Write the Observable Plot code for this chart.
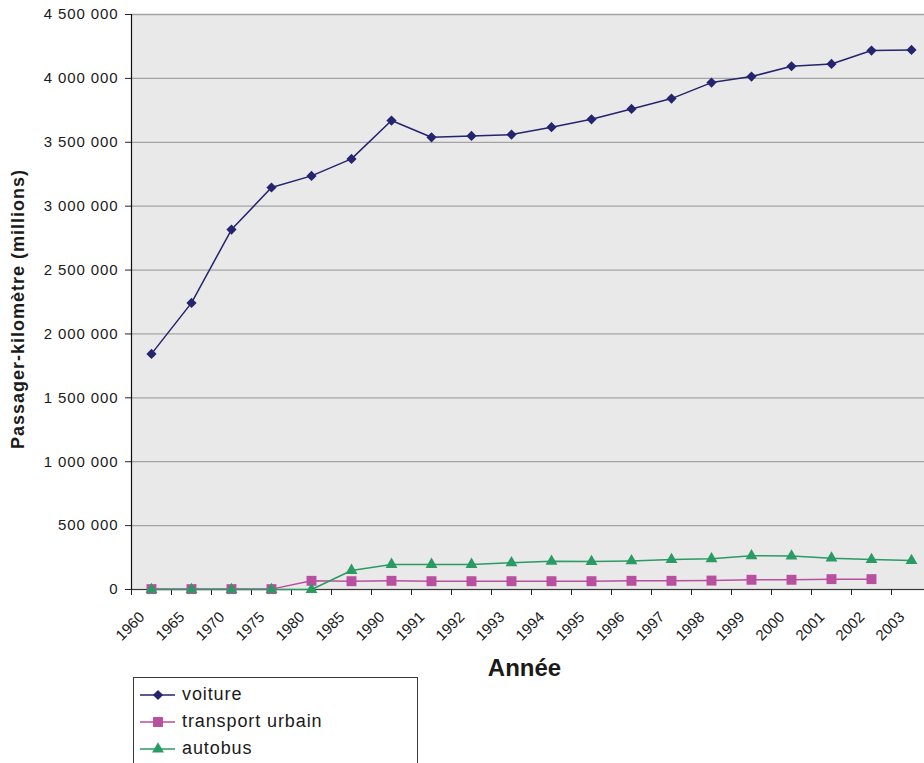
<!DOCTYPE html>
<html><head><meta charset="utf-8">
<script src="https://cdn.jsdelivr.net/npm/d3@7"></script>
<script src="https://cdn.jsdelivr.net/npm/@observablehq/plot@0.6"></script>
<style>
body{margin:0;background:#fff;overflow:hidden;font-family:"Liberation Sans",Arial,sans-serif;}
#chart{position:absolute;left:0;top:0;}
#legend{position:absolute;left:133px;top:677px;width:285px;height:110px;border:1px solid #3a3a3a;box-sizing:border-box;padding-top:3px;background:#fff}
.item{display:flex;align-items:center;height:27px;font-size:18px;letter-spacing:0.9px;color:#1a1a1a}
.item svg{margin-left:6px;margin-right:7px}
</style></head><body><div id="chart"></div><div id="legend"></div>
<script>
const years = ["1960","1965","1970","1975","1980","1985","1990","1991","1992","1993","1994","1995","1996","1997","1998","1999","2000","2001","2002","2003"];
const voiture = [1844000,2243000,2817000,3146000,3237000,3370000,3670000,3539000,3550000,3560000,3618000,3680000,3761000,3842000,3967000,4014000,4095000,4113000,4218000,4223000];
const transportUrbain = [3000,3000,3000,3000,68000,65000,68000,65000,65000,65000,65000,65000,68000,68000,70000,76000,76000,81000,81000,null];
const autobus = [0,0,0,0,0,149000,196000,196000,196000,209000,221000,219000,224000,235000,240000,264000,262000,245000,235000,227000];
const seriesNames = ["voiture","transport urbain","autobus"];
const seriesColors = ["#24246f","#b94f9f","#2a9b63"];
const seriesSymbols = ["diamond2","square","triangle"];
const yTicks = [0,500000,1000000,1500000,2000000,2500000,3000000,3500000,4000000,4500000];
const xTitle = "Année";
const yTitle = "Passager-kilomètre (millions)";

const seriesValues = [voiture, transportUrbain, autobus];
const rows = [];
seriesNames.forEach((s, k) => years.forEach((year, i) => {
  const v = seriesValues[k][i];
  if (v != null) rows.push({year, series: s, value: v});
}));

const fmt = d3.formatLocale({thousands: " ", grouping: [3], decimal: ","}).format(",");
const W = 924, H = 680, ML = 131, MR = -7, MT = 14, MB = H - 589;
const step = (W - ML - MR) / years.length;
const font = "'Liberation Sans', Arial, sans-serif";

const chart = Plot.plot({
  width: W, height: H, marginTop: MT, marginLeft: ML, marginRight: MR, marginBottom: MB,
  style: {fontFamily: font, background: "transparent", color: "#1a1a1a"},
  x: {type: "point", domain: years, padding: 0.5, label: null},
  y: {domain: [0, 4500000], label: null},
  color: {domain: seriesNames, range: seriesColors},
  marks: [
    Plot.frame({fill: "#e9e9e9", stroke: null}),
    Plot.gridY(yTicks, {stroke: "#a4a4a4", strokeOpacity: 1, strokeWidth: 1.3}),
    Plot.ruleY([0], {stroke: "#3a3a3a", strokeWidth: 1.2}),
    Plot.ruleX([years[0]], {dx: -step / 2, stroke: "#111", strokeWidth: 1.2}),
    Plot.axisY(yTicks, {tickFormat: fmt, tickSize: 6, tickPadding: 7, fontSize: 15, stroke: "#222", label: null}),
    Plot.axisX({tickSize: 6, dx: -step / 2, text: null, stroke: "#222", label: null}),
    Plot.text(years, {x: d => d, frameAnchor: "bottom", rotate: -45, textAnchor: "end", lineAnchor: "middle", dy: 25, dx: -9.5, fontSize: 15}),
    Plot.line(rows, {x: "year", y: "value", z: "series", stroke: "series", strokeWidth: 1.5}),
    Plot.dot(rows.filter(d => d.series === "voiture"), {x: "year", y: "value", symbol: () => "diamond2", fill: seriesColors[0], stroke: null, r: 4.6}),
    Plot.dot(rows.filter(d => d.series === "transport urbain"), {x: "year", y: "value", symbol: () => "square", fill: seriesColors[1], stroke: null, r: 5.6}),
    Plot.dot(rows.filter(d => d.series === "autobus"), {x: "year", y: "value", symbol: () => "triangle", fill: seriesColors[2], stroke: null, r: 4.4}),
    Plot.text([xTitle], {frameAnchor: "bottom", dy: 79, dx: -7, fontSize: 24, fontWeight: "bold", lineAnchor: "middle"}),
    Plot.text([yTitle], {frameAnchor: "left", rotate: -90, dx: -113, dy: 7, fontSize: 18, fontWeight: "bold", textAnchor: "middle", lineAnchor: "middle"})
  ]
});
document.getElementById("chart").appendChild(chart);
const svg = d3.select(chart);
svg.selectAll('g[aria-label="y-axis tick label"] text').style("letter-spacing", "0.9px").style("font-size", "15px");
svg.selectAll("text").filter(function() { return this.textContent === yTitle; }).style("letter-spacing", "1px");

// legend
const legend = d3.select("#legend");
seriesNames.forEach((s, k) => {
  const item = legend.append("div").attr("class", "item");
  const sw = item.append("svg").attr("width", 35).attr("height", 14);
  sw.append("line").attr("x1", 0).attr("x2", 35).attr("y1", 7).attr("y2", 7).attr("stroke", seriesColors[k]).attr("stroke-width", 1.5);
  const sym = {diamond2: d3.symbolDiamond2, square: d3.symbolSquare, triangle: d3.symbolTriangle}[seriesSymbols[k]];
  const size = [Math.PI * 4.6 * 4.6, Math.PI * 5.6 * 5.6, Math.PI * 4.4 * 4.4][k];
  sw.append("path").attr("transform", "translate(18,7)").attr("d", d3.symbol(sym, size)()).attr("fill", seriesColors[k]);
  item.append("span").text(s);
});
</script>
</body></html>
